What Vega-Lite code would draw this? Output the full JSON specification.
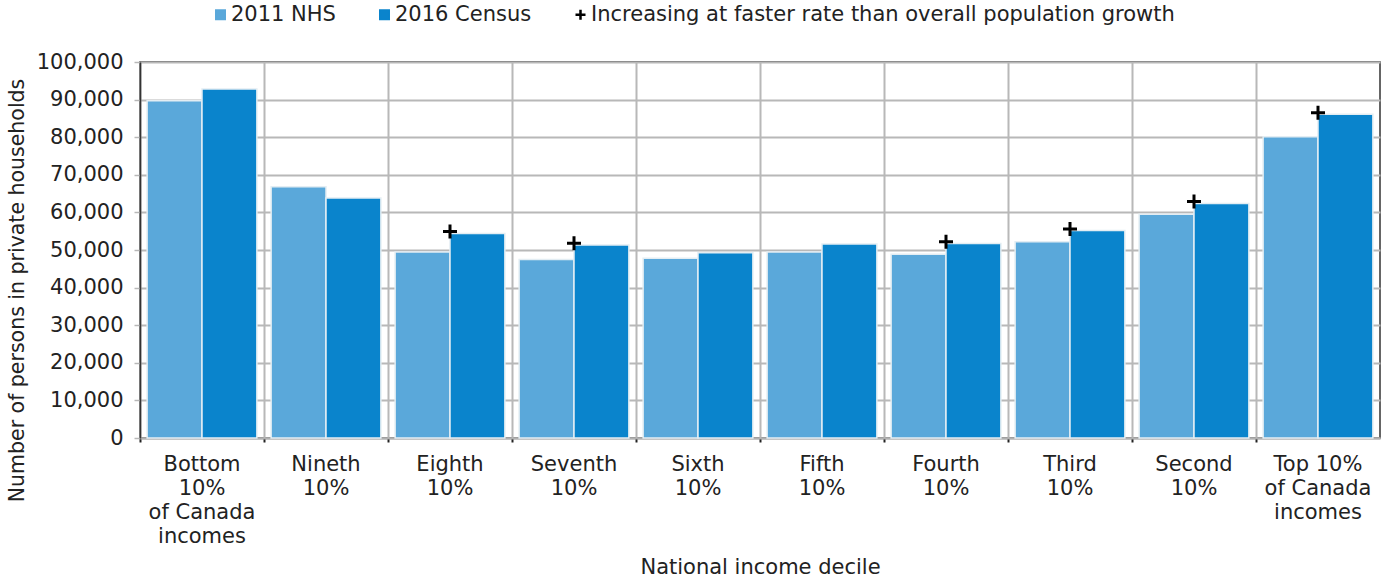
{
  "$schema": "https://vega.github.io/schema/vega-lite/v6.json",
  "width": 1240,
  "height": 376,
  "autosize": {"type": "none"},
  "padding": {"left": 140, "top": 62, "right": 1, "bottom": 140},
  "background": "white",
  "config": {
    "font": "DejaVu Sans",
    "view": {"stroke": "#333333", "strokeWidth": 1.5},
    "axis": {"labelColor": "#222222", "titleColor": "#222222", "labelFont": "DejaVu Sans", "titleFont": "DejaVu Sans", "titleFontWeight": "normal"},
    "legend": {"labelFont": "DejaVu Sans"}
  },
  "datasets": {
    "bars": [
      {"decile": "Bottom|10%|of Canada|incomes", "series": "2011 NHS", "value": 89700},
      {"decile": "Bottom|10%|of Canada|incomes", "series": "2016 Census", "value": 92800},
      {"decile": "Nineth|10%", "series": "2011 NHS", "value": 66800},
      {"decile": "Nineth|10%", "series": "2016 Census", "value": 63800},
      {"decile": "Eighth|10%", "series": "2011 NHS", "value": 49500},
      {"decile": "Eighth|10%", "series": "2016 Census", "value": 54400},
      {"decile": "Seventh|10%", "series": "2011 NHS", "value": 47500},
      {"decile": "Seventh|10%", "series": "2016 Census", "value": 51300},
      {"decile": "Sixth|10%", "series": "2011 NHS", "value": 47800},
      {"decile": "Sixth|10%", "series": "2016 Census", "value": 49300},
      {"decile": "Fifth|10%", "series": "2011 NHS", "value": 49500},
      {"decile": "Fifth|10%", "series": "2016 Census", "value": 51600},
      {"decile": "Fourth|10%", "series": "2011 NHS", "value": 48900},
      {"decile": "Fourth|10%", "series": "2016 Census", "value": 51700},
      {"decile": "Third|10%", "series": "2011 NHS", "value": 52200},
      {"decile": "Third|10%", "series": "2016 Census", "value": 55200},
      {"decile": "Second|10%", "series": "2011 NHS", "value": 59500},
      {"decile": "Second|10%", "series": "2016 Census", "value": 62400},
      {"decile": "Top 10%|of Canada|incomes", "series": "2011 NHS", "value": 80100},
      {"decile": "Top 10%|of Canada|incomes", "series": "2016 Census", "value": 86100}
    ],
    "markers": [
      {"decile": "Eighth|10%", "value": 54900},
      {"decile": "Seventh|10%", "value": 51800},
      {"decile": "Fourth|10%", "value": 52200},
      {"decile": "Third|10%", "value": 55600},
      {"decile": "Second|10%", "value": 62900},
      {"decile": "Top 10%|of Canada|incomes", "value": 86500}
    ]
  },
  "layer": [
    {
      "data": {"name": "bars"},
      "mark": {"type": "bar", "stroke": "#e3edf3", "strokeWidth": 1.5},
      "encoding": {
        "x": {
          "field": "decile", "type": "nominal",
          "sort": ["Bottom|10%|of Canada|incomes", "Nineth|10%", "Eighth|10%", "Seventh|10%", "Sixth|10%", "Fifth|10%", "Fourth|10%", "Third|10%", "Second|10%", "Top 10%|of Canada|incomes"],
          "scale": {"paddingInner": 0, "paddingOuter": 0},
          "axis": {
            "title": "National income decile",
            "titleFontSize": 21, "titlePadding": 10,
            "labelExpr": "split(datum.label, '|')",
            "labelFontSize": 21, "labelLineHeight": 24, "labelAngle": 0, "labelPadding": 11,
            "labelBaseline": "top",
            "grid": true, "gridColor": "#b8b8b8", "gridWidth": 2,
            "bandPosition": 0,
            "ticks": true, "tickSize": 4, "tickColor": "#222222", "tickWidth": 2,
            "domainColor": "#b0b0b0", "domainWidth": 2
          }
        },
        "xOffset": {"field": "series", "type": "nominal", "scale": {"paddingOuter": 0.13, "paddingInner": 0}},
        "y": {
          "field": "value", "type": "quantitative",
          "scale": {"domain": [0, 100000]},
          "axis": {
            "title": "Number of persons in private households",
            "titleFontSize": 20.5, "titlePadding": 9, "titleY": 228,
            "labelFontSize": 21, "labelPadding": 11, "format": ",d",
            "values": [0, 10000, 20000, 30000, 40000, 50000, 60000, 70000, 80000, 90000, 100000],
            "labelOverlap": false,
            "grid": true, "gridColor": "#b8b8b8", "gridWidth": 2,
            "tickSize": 6, "tickColor": "#b8b8b8", "tickWidth": 1.5,
            "domainColor": "#333333", "domainWidth": 1.5
          }
        },
        "color": {
          "field": "series", "type": "nominal",
          "scale": {
            "domain": ["2011 NHS", "2016 Census", "Increasing at faster rate than overall population growth"],
            "range": ["#5aa8da", "#0a84cc", "#000000"]
          },
          "legend": {
            "title": null,
            "orient": "none",
            "legendX": 70,
            "legendY": -58,
            "padding": 0,
            "direction": "horizontal",
            "labelFontSize": 21,
            "labelColor": "#222222",
            "labelLimit": 900,
            "symbolSize": 100,
            "symbolType": "square",
            "labelOffset": 0,
            "columnPadding": 38,
            "encoding": {
              "symbols": {
                "shape": {"value": {"expr": "datum.value === 'Increasing at faster rate than overall population growth' ? 'M-1,0L1,0M0,-1L0,1' : 'square'"}},
                "size": {"value": {"expr": "datum.value === 'Increasing at faster rate than overall population growth' ? 100 : 90"}},
                "stroke": {"value": {"expr": "datum.value === 'Increasing at faster rate than overall population growth' ? '#000000' : '#d5e3ec'"}},
                "strokeWidth": {"value": {"expr": "datum.value === 'Increasing at faster rate than overall population growth' ? 2.5 : 1.5"}}
              }
            }
          }
        }
      }
    },
    {
      "data": {"name": "markers"},
      "mark": {"type": "point", "shape": "M-1,0L1,0M0,-1L0,1", "size": 196, "strokeWidth": 3, "filled": false, "opacity": 1},
      "encoding": {
        "x": {
          "field": "decile", "type": "nominal",
          "sort": ["Bottom|10%|of Canada|incomes", "Nineth|10%", "Eighth|10%", "Seventh|10%", "Sixth|10%", "Fifth|10%", "Fourth|10%", "Third|10%", "Second|10%", "Top 10%|of Canada|incomes"],
          "axis": {
            "title": "National income decile",
            "titleFontSize": 21, "titlePadding": 10,
            "labelExpr": "split(datum.label, '|')",
            "labelFontSize": 21, "labelLineHeight": 24, "labelAngle": 0, "labelPadding": 11,
            "labelBaseline": "top",
            "grid": true, "gridColor": "#b8b8b8", "gridWidth": 2,
            "bandPosition": 0,
            "ticks": true, "tickSize": 4, "tickColor": "#222222", "tickWidth": 2,
            "domainColor": "#b0b0b0", "domainWidth": 2
          }
        },
        "y": {
          "field": "value", "type": "quantitative",
          "axis": {
            "title": "Number of persons in private households",
            "titleFontSize": 20.5, "titlePadding": 9, "titleY": 228,
            "labelFontSize": 21, "labelPadding": 11, "format": ",d",
            "values": [0, 10000, 20000, 30000, 40000, 50000, 60000, 70000, 80000, 90000, 100000],
            "labelOverlap": false,
            "grid": true, "gridColor": "#b8b8b8", "gridWidth": 2,
            "tickSize": 6, "tickColor": "#b8b8b8", "tickWidth": 1.5,
            "domainColor": "#333333", "domainWidth": 1.5
          }
        },
        "color": {"datum": "Increasing at faster rate than overall population growth"}
      }
    }
  ]
}
